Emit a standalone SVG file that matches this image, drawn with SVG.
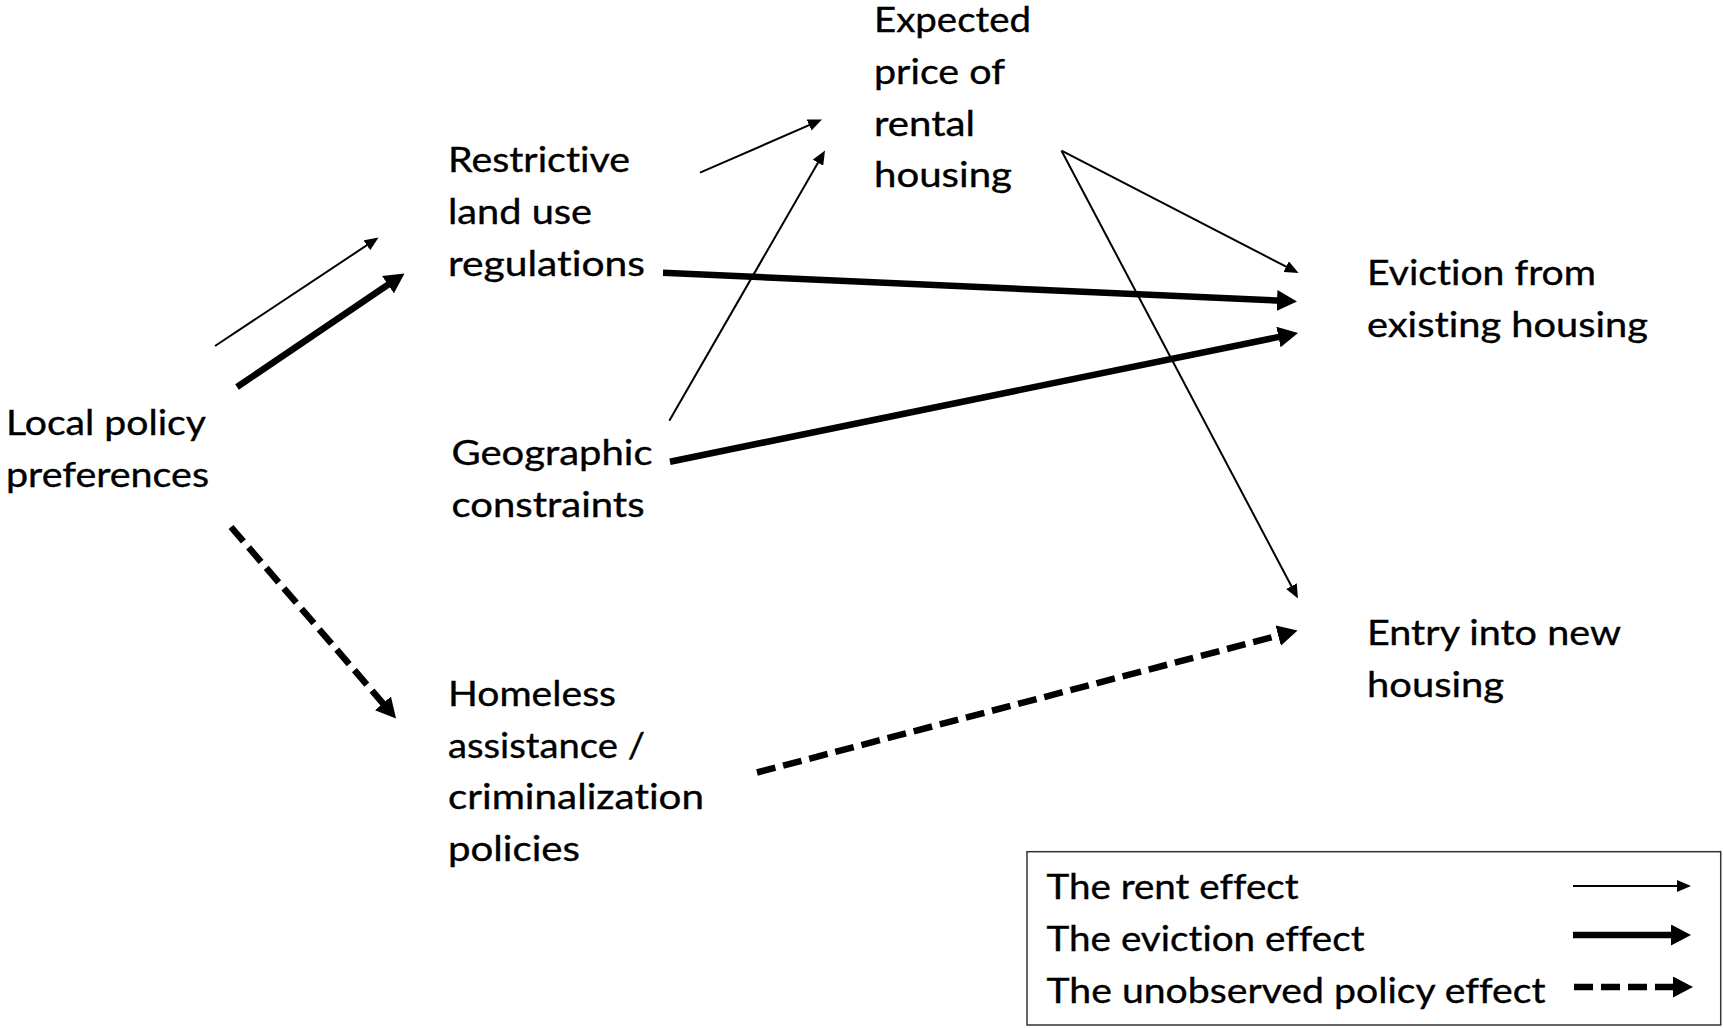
<svg xmlns="http://www.w3.org/2000/svg" width="1723" height="1028" viewBox="0 0 1723 1028">
<style>
  .t { font-family: "Lato", "Liberation Sans", sans-serif; font-size: 34px; fill: #000; stroke: #000; stroke-width: 0.35px; font-variant-ligatures: none; font-feature-settings: "liga" 0, "dlig" 0; }
  .thin { stroke: #000; stroke-width: 2; fill: none; marker-end: url(#hThin); }
  .thick { stroke: #000; stroke-width: 6.5; fill: none; marker-end: url(#hThick); }
  .dash { stroke: #000; stroke-width: 6.5; fill: none; stroke-dasharray: 19 8; marker-end: url(#hThick); }
</style>
<defs>
  <marker id="hThin" markerUnits="userSpaceOnUse" markerWidth="14" markerHeight="12" refX="10" refY="6" orient="auto" viewBox="0 0 14 12">
    <path d="M0,0 L14,6 L0,12 z" fill="#000"/>
  </marker>
  <marker id="hThick" markerUnits="userSpaceOnUse" markerWidth="20" markerHeight="21" refX="12" refY="10.5" orient="auto" viewBox="0 0 20 21">
    <path d="M0,0 L20,10.5 L0,21 z" fill="#000"/>
  </marker>
</defs>
<rect width="1723" height="1028" fill="#fff"/>

<g id="connectors">
  <line class="thin" x1="215" y1="346" x2="375.2" y2="239.7"/>
  <line class="thick" x1="237" y1="387" x2="397.9" y2="278"/>
  <line class="dash" x1="231" y1="527" x2="390.8" y2="712.4"/>
  <line class="thin" x1="700" y1="172.7" x2="818.3" y2="121.1"/>
  <line class="thin" x1="669.3" y1="420.7" x2="823" y2="154"/>
  <line class="thick" x1="663" y1="272.7" x2="1289" y2="301.1"/>
  <line class="thick" x1="670" y1="461.7" x2="1290.2" y2="334.6"/>
  <line class="thin" x1="1061.5" y1="150.7" x2="1295" y2="271.2"/>
  <line class="thin" x1="1061.5" y1="150.7" x2="1296.1" y2="595"/>
  <line class="dash" x1="757" y1="772.5" x2="1289.8" y2="632.5"/>
</g>

<g id="local-policy-preferences">
  <text class="t" x="6" y="435" textLength="200" lengthAdjust="spacingAndGlyphs">Local policy</text>
  <text class="t" x="6" y="487" textLength="203" lengthAdjust="spacingAndGlyphs">preferences</text>
</g>

<g id="restrictive-land-use">
  <text class="t" x="448" y="172" textLength="182" lengthAdjust="spacingAndGlyphs">Restrictive</text>
  <text class="t" x="448" y="224" textLength="144" lengthAdjust="spacingAndGlyphs">land use</text>
  <text class="t" x="448" y="275.5" textLength="197" lengthAdjust="spacingAndGlyphs">regulations</text>
</g>

<g id="expected-price">
  <text class="t" x="874" y="32" textLength="157" lengthAdjust="spacingAndGlyphs">Expected</text>
  <text class="t" x="874" y="84" textLength="131" lengthAdjust="spacingAndGlyphs">price of</text>
  <text class="t" x="874" y="135.7" textLength="101" lengthAdjust="spacingAndGlyphs">rental</text>
  <text class="t" x="874" y="187.4" textLength="138" lengthAdjust="spacingAndGlyphs">housing</text>
</g>

<g id="geographic-constraints">
  <text class="t" x="451.5" y="465" textLength="201" lengthAdjust="spacingAndGlyphs">Geographic</text>
  <text class="t" x="451.5" y="516.7" textLength="193" lengthAdjust="spacingAndGlyphs">constraints</text>
</g>

<g id="homeless-policies">
  <text class="t" x="448" y="706" textLength="168" lengthAdjust="spacingAndGlyphs">Homeless</text>
  <text class="t" x="448" y="757.7" textLength="197" lengthAdjust="spacingAndGlyphs">assistance /</text>
  <text class="t" x="448" y="809.4" textLength="256" lengthAdjust="spacingAndGlyphs">criminalization</text>
  <text class="t" x="448" y="861" textLength="132" lengthAdjust="spacingAndGlyphs">policies</text>
</g>

<g id="eviction">
  <text class="t" x="1367" y="285" textLength="229" lengthAdjust="spacingAndGlyphs">Eviction from</text>
  <text class="t" x="1367" y="336.7" textLength="281" lengthAdjust="spacingAndGlyphs">existing housing</text>
</g>

<g id="entry">
  <text class="t" x="1367" y="645" textLength="254" lengthAdjust="spacingAndGlyphs">Entry into new</text>
  <text class="t" x="1367" y="696.7" textLength="137" lengthAdjust="spacingAndGlyphs">housing</text>
</g>

<g id="legend">
  <rect x="1027" y="851.7" width="693.7" height="173.3" fill="#fff" stroke="#333" stroke-width="1.5"/>
  <text class="t" x="1046.5" y="899.3" textLength="252" lengthAdjust="spacingAndGlyphs">The rent effect</text>
  <text class="t" x="1046.5" y="951" textLength="318" lengthAdjust="spacingAndGlyphs">The eviction effect</text>
  <text class="t" x="1046.5" y="1002.7" textLength="499" lengthAdjust="spacingAndGlyphs">The unobserved policy effect</text>
  <line class="thin" x1="1573" y1="886" x2="1687" y2="886"/>
  <line class="thick" x1="1573" y1="935" x2="1683" y2="935"/>
  <line class="dash" x1="1574" y1="987" x2="1685" y2="987"/>
</g>
</svg>
